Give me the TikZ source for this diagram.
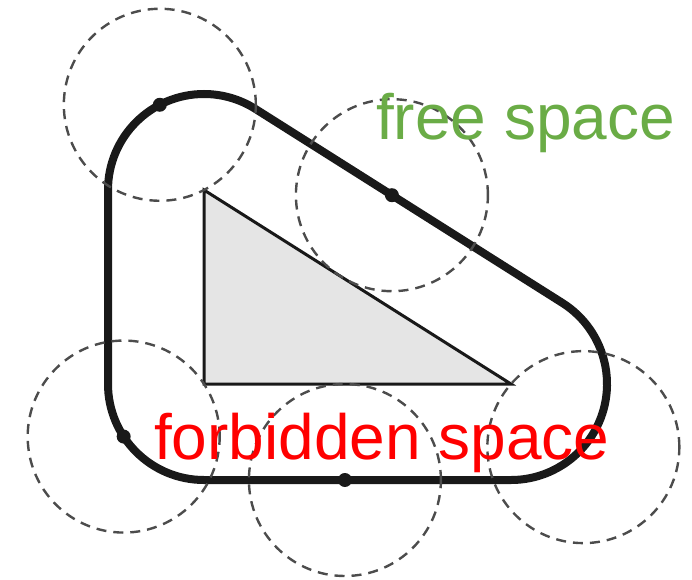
\documentclass[tikz,border=0pt]{standalone}
\usepackage{fontspec}
\setmainfont{Liberation Sans}
\usetikzlibrary{calc}
\definecolor{zold}{RGB}{106,172,70}
\tikzset{
  pont/.style={circle,fill=black!90,inner sep=0pt,minimum size=14pt},
  kor/.style={draw=black!70,line width=2.4pt,dash pattern=on 10pt off 7pt},
  akad/.style={draw=black!90,line width=3pt,fill=black!10},
  hatar/.style={draw=black!90,line width=8pt},
  felirat/.style={inner sep=0pt,anchor=base west,font=\fontsize{64}{70}\selectfont},
}

\begin{document}
\begin{tikzpicture}[x=1pt,y=1pt]
  \useasboundingbox (0,0) rectangle (692,579);
  \def\r{96}
  \coordinate (A) at (204,389); \coordinate (B) at (204,195); \coordinate (C) at (511,195);
  \draw[akad] (A) -- (B) -- (C) -- cycle;
  \draw[hatar] ($(A)+(180:\r)$) arc[start angle=180,end angle=57.7,radius=\r]
    -- ($(C)+(57.7:\r)$) arc[start angle=57.7,end angle=-90,radius=\r]
    -- ($(B)+(-90:\r)$) arc[start angle=270,end angle=180,radius=\r] -- cycle;
  \coordinate (k1) at ($(A)+(117.4:\r)$);
  \coordinate (k2) at ($(A)!0.445!(C)+(57.7:\r)$);
  \coordinate (k3) at ($(B)+(213.2:\r)$);
  \coordinate (k4) at ($(B)!0.459!(C)+(0,-\r)$);
  \coordinate (k5) at ($(C)+(-41.1:\r)$);
  \foreach \i in {1,...,5} \draw[kor] (k\i) circle[radius=\r];
  \foreach \i in {1,...,4} \node[pont] (p\i) at (k\i) {};
  \node[felirat,text=zold] (szabad) at (376,439) {free space};
  \node[felirat,text=red] (tiltott) at (154,120) {forbidden space};
\end{tikzpicture}
\end{document}
